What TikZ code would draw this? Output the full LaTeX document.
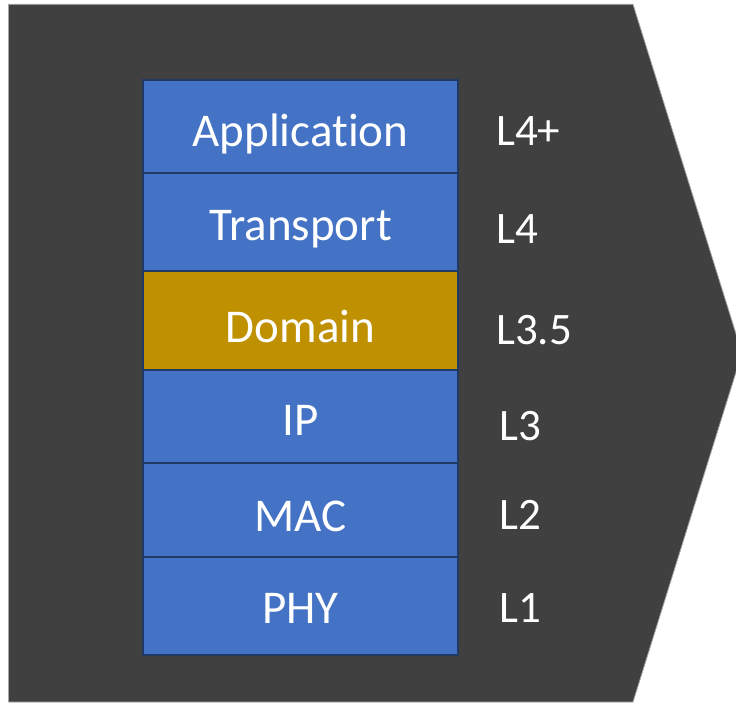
\documentclass[tikz,border=0pt]{standalone}
\usepackage{fontspec}
\setmainfont[Ligatures=NoCommon]{Carlito}
\definecolor{bgdark}{HTML}{404040}
\definecolor{layblue}{HTML}{4472C4}
\definecolor{laygold}{HTML}{BF9000}
\definecolor{laynavy}{HTML}{1F3864}
\definecolor{edgegray}{HTML}{A6A6A6}
\begin{document}
\begin{tikzpicture}[x=1pt,y=-1pt,
  layer/.style={draw=laynavy,line width=2.6pt,fill=layblue,text=white,
    minimum width=315pt,inner sep=0pt,outer sep=0pt,
    font=\fontsize{47}{56}\selectfont},
  lvl/.style={text=white,anchor=west,inner sep=0pt,
    font=\fontsize{45}{54}\selectfont},
  sep/.style={draw=laynavy,line width=2.6pt}]
\useasboundingbox (0,0) rectangle (736,702);
\fill[white] (0,0) rectangle (736,702);
\begin{scope}
\clip (0,0) rectangle (736,702);
\path[fill=bgdark,draw=edgegray,line width=0.8pt]
  (8.5,4.3) -- (633,4.3) -- (742,353) -- (633,702) -- (8.5,702) -- cycle;
\end{scope}
% layers
\node[layer,minimum height=93pt] (app) at (300.5,126.5) {};
\node[layer,minimum height=98pt] (tra) at (300.5,222) {};
\node[layer,minimum height=99pt,fill=laygold] (dom) at (300.5,320.5) {};
\node[layer,minimum height=93pt] (ip) at (300.5,416.5) {};
\node[layer,minimum height=94pt] (mac) at (300.5,510) {};
\node[layer,minimum height=98pt] (phy) at (300.5,606) {};
% separators and outer frame on top
\draw[sep] (app.south west) -- (app.south east);
\draw[sep] (tra.south west) -- (tra.south east);
\draw[sep] (dom.south west) -- (dom.south east);
\draw[sep] (ip.south west) -- (ip.south east);
\draw[sep] (mac.south west) -- (mac.south east);
\draw[sep] (app.north west) rectangle (phy.south east);
% texts
\node[layer,draw=none,fill=none] (tapp) at (300.5,134) {Application};
\node[layer,draw=none,fill=none] (ttra) at (300.5,229) {Transport};
\node[layer,draw=none,fill=none] (tdom) at (300.5,326) {Domain};
\node[layer,draw=none,fill=none] (tip) at (300.5,420) {IP};
\node[layer,draw=none,fill=none] (tmac) at (300.5,516) {MAC};
\node[layer,draw=none,fill=none] (tphy) at (300.5,608) {PHY};
% level labels
\node[lvl] (l4p) at (496,131) {L4+};
\node[lvl] (l4) at (496,229) {L4};
\node[lvl] (l35) at (496,330) {L3.5};
\node[lvl] (l3) at (499,426) {L3};
\node[lvl] (l2) at (499,515) {L2};
\node[lvl] (l1) at (499,608) {L1};
\end{tikzpicture}
\end{document}
